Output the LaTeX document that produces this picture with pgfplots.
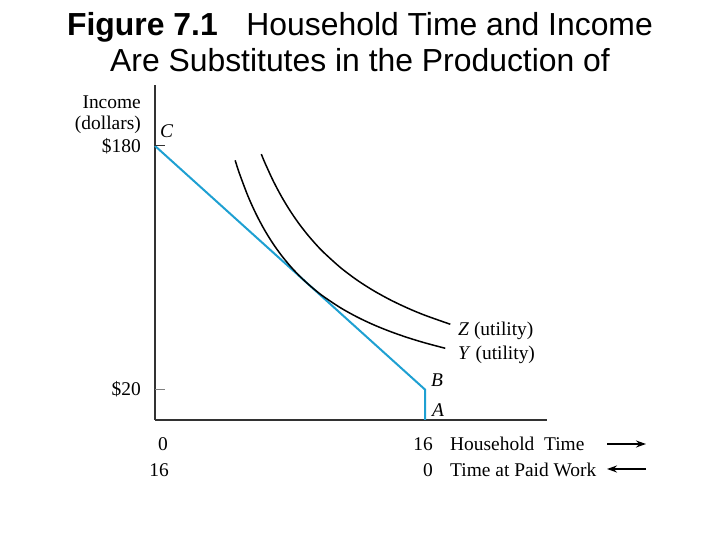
\documentclass[border=0pt]{standalone}
\usepackage{pgfplots}
\pgfplotsset{compat=1.18}
\usepackage{fontspec}
\setmainfont{Liberation Serif}
\newfontfamily\titlefont{Liberation Sans}
\usetikzlibrary{arrows.meta}
\definecolor{bline}{RGB}{30,160,210}
\definecolor{axgray}{RGB}{50,50,50}
\begin{document}
\begin{tikzpicture}[x=1bp,y=1bp]
\path[use as bounding box] (0,0) rectangle (720,540);
\node[anchor=base, inner sep=0pt, font=\titlefont\fontsize{32}{38}\selectfont] at (360,504) {\textbf{Figure 7.1}\hspace{0.9em}Household Time and Income};
\node[anchor=base, inner sep=0pt, font=\titlefont\fontsize{32}{38}\selectfont] at (360,468) {Are Substitutes in the Production of};
\begin{axis}[at={(155bp,120bp)}, anchor=south west, scale only axis,
  width=392bp, height=335bp,
  xmin=0, xmax=23.23, ymin=0, ymax=220,
  axis x line*=bottom, axis y line*=left,
  axis line style={-, axgray, line width=2.2bp},
  xtick=\empty, ytick=\empty, clip=false]
\addplot[bline, line width=2bp] coordinates {(0,180) (16,20) (16,0)};
\addplot[black, line width=1.5bp, smooth] coordinates {
(4.75,170.53) (5,162) (5.5,147.27) (6,135) (6.5,124.62) (7,115.71) (7.5,108)
(8,101.25) (8.5,95.29) (9,90) (9.5,85.26) (10,81) (11,73.64) (12,67.5)
(13,62.31) (14,57.86) (15,54) (16,50.63) (17.2,47.09)};
\addplot[black, line width=1.5bp, smooth] coordinates {
(6.3,174.6) (6.5,169.23) (7,157.14) (7.5,146.67) (8,137.5) (8.5,129.41)
(9,122.22) (9.5,115.79) (10,110) (11,100) (12,91.67) (13,84.62) (14,78.57)
(15,73.33) (16,68.75) (17.5,62.86)};
\draw[axgray, line width=0.9bp] (axis cs:0,180) -- ++(10bp,0);
\draw[gray, line width=0.9bp] (axis cs:0,20) -- ++(10bp,0);
\end{axis}
\begin{scope}[font=\fontsize{19.5}{23}\selectfont]
\node[anchor=base east, inner sep=0pt] at (141,431) {Income};
\node[anchor=base east, inner sep=0pt] at (141,410) {(dollars)};
\node[anchor=base east, inner sep=0pt] at (141,387) {\$180};
\node[anchor=base east, inner sep=0pt] at (141,144) {\$20};
\node[anchor=base west, inner sep=0pt] at (160,402) {\textit{C}};
\node[anchor=base west, inner sep=0pt] at (431,153) {\textit{B}};
\node[anchor=base west, inner sep=0pt] at (432,123) {\textit{A}};
\node[anchor=base west, inner sep=0pt] at (458,204) {\textit{Z} (utility)};
\node[anchor=base west, inner sep=0pt] at (458,180) {\textit{Y} (utility)};
\node[anchor=base, inner sep=0pt] at (163,89) {0};
\node[anchor=base, inner sep=0pt] at (159,63) {16};
\node[anchor=base east, inner sep=0pt] at (433,89) {16};
\node[anchor=base east, inner sep=0pt] at (433,63) {0};
\node[anchor=base west, inner sep=0pt] at (450,89) {Household\ \ Time};
\node[anchor=base west, inner sep=0pt] at (450,63) {Time at Paid Work};
\end{scope}
\draw[-{Stealth[length=10bp,width=7bp]}, line width=1.6bp] (607,96) -- (646,96);
\draw[-{Stealth[length=10bp,width=7bp]}, line width=1.6bp] (646,71) -- (607,71);
\end{tikzpicture}
\end{document}
